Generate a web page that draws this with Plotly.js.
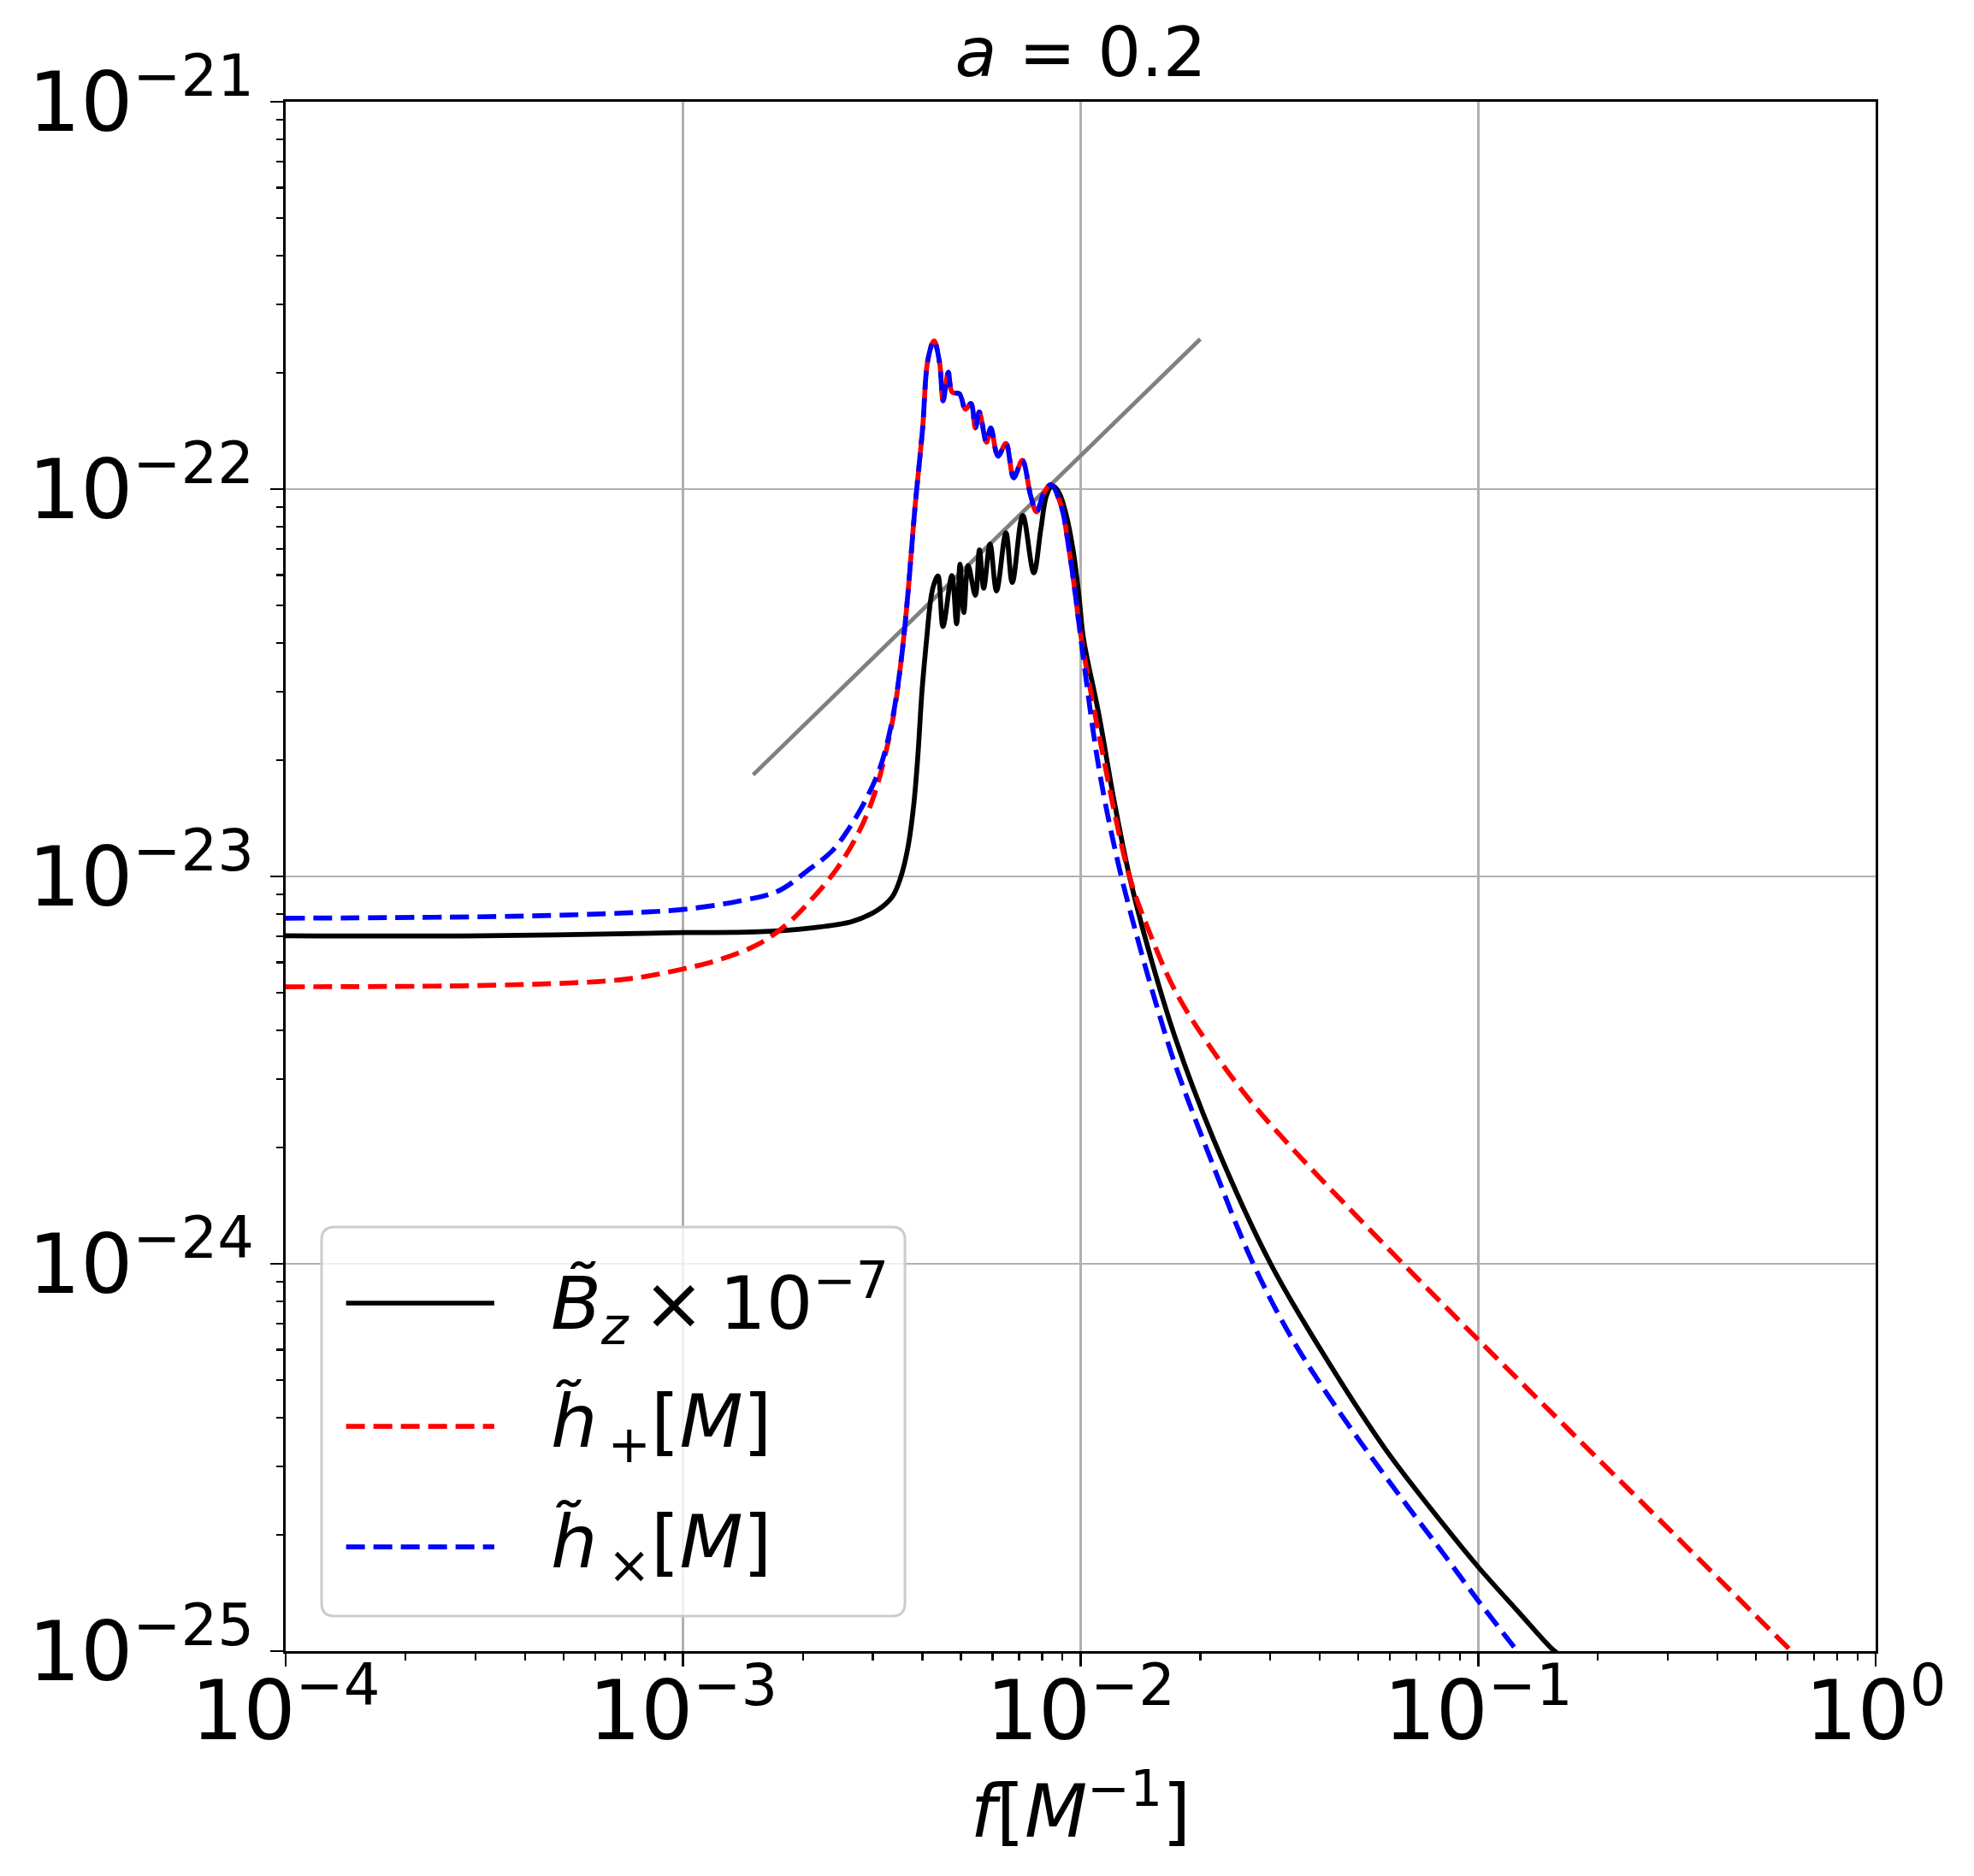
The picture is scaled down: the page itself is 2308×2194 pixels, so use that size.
<!DOCTYPE html>
<html>
<head>
<meta charset="utf-8">
<script src="https://cdn.plot.ly/plotly-3.0.1.min.js"></script>
<style>body{margin:0;background:#fff}</style>
</head>
<body>
<div id="chart" style="width:2308px;height:2194px"></div>
<script>
// B_z x 1e-7 (black)
var bzF = [1.00e-4, 3.16e-4, 1.00e-3, 1.51e-3, 2.09e-3, 2.67e-3, 3.09e-3, 3.36e-3, 3.526e-3, 3.675e-3,
  3.802e-3, 3.894e-3, 3.990e-3, 4.093e-3, 4.198e-3, 4.266e-3, 4.375e-3, 4.504e-3, 4.742e-3, 4.875e-3,
  4.972e-3, 5.082e-3, 5.212e-3, 5.433e-3, 5.564e-3, 5.702e-3, 5.916e-3, 6.143e-3, 6.486e-3, 6.730e-3,
  7.151e-3, 7.621e-3, 7.936e-3, 8.204e-3, 8.479e-3, 8.831e-3, 9.204e-3, 9.594e-3, 9.917e-3, 1.0163e-2,
  1.112e-2, 1.216e-2, 1.327e-2, 1.483e-2, 1.730e-2, 2.158e-2, 3.006e-2, 4.188e-2, 5.834e-2, 8.128e-2,
  0.1, 0.1265, 0.1524, 0.1585];
var bzH = [7.03e-24, 7.03e-24, 7.16e-24, 7.19e-24, 7.36e-24, 7.66e-24, 8.20e-24, 8.87e-24, 9.95e-24, 1.186e-23,
  1.528e-23, 2.046e-23, 3.02e-23, 4.05e-23, 5.21e-23, 5.64e-23, 5.97e-23, 4.42e-23, 5.98e-23, 4.49e-23,
  6.40e-23, 4.80e-23, 6.35e-23, 5.32e-23, 6.97e-23, 5.55e-23, 7.21e-23, 5.46e-23, 7.71e-23, 5.74e-23,
  8.55e-23, 6.08e-23, 7.85e-23, 9.62e-23, 1.021e-22, 9.77e-23, 8.55e-23, 6.85e-23, 5.22e-23, 4.12e-23,
  2.61e-23, 1.552e-23, 1.0e-23, 6.44e-24, 3.83e-24, 2.10e-24, 1.0e-24, 5.60e-25, 3.33e-25, 2.14e-25,
  1.65e-25, 1.26e-25, 1.02e-25, 9.86e-26];

// h_plus before the peak (red)
var hpLowF = [1.0e-4, 3.70e-4, 7.18e-4, 1.0e-3, 1.247e-3, 1.556e-3, 1.816e-3, 2.080e-3, 2.453e-3, 2.799e-3, 3.041e-3, 3.248e-3, 3.412e-3];
var hpLowH = [5.19e-24, 5.25e-24, 5.43e-24, 5.77e-24, 6.12e-24, 6.71e-24, 7.50e-24, 8.61e-24, 1.057e-23, 1.334e-23, 1.652e-23, 2.128e-23, 2.742e-23];

// h_cross before the peak (blue)
var hxLowF = [1.0e-4, 3.70e-4, 7.18e-4, 1.0e-3, 1.393e-3, 1.738e-3, 2.080e-3, 2.371e-3, 2.618e-3, 2.891e-3, 3.141e-3, 3.357e-3];
var hxLowH = [7.80e-24, 7.89e-24, 8.05e-24, 8.22e-24, 8.65e-24, 9.18e-24, 1.045e-23, 1.164e-23, 1.334e-23, 1.589e-23, 1.932e-23, 2.535e-23];

// peak region where both polarisations coincide
var peakF = [3.526e-3, 3.648e-3, 3.737e-3, 3.831e-3, 3.999e-3, 4.130e-3, 4.276e-3, 4.416e-3, 4.508e-3, 4.645e-3,
  4.753e-3, 4.955e-3, 5.129e-3, 5.297e-3, 5.433e-3, 5.559e-3, 5.794e-3, 5.943e-3, 6.194e-3, 6.486e-3,
  6.784e-3, 7.129e-3, 7.490e-3, 7.745e-3, 8.072e-3, 8.414e-3, 8.913e-3, 9.354e-3, 9.750e-3, 9.908e-3];
var peakH = [3.53e-23, 4.91e-23, 6.58e-23, 8.99e-23, 1.416e-22, 2.163e-22, 2.415e-22, 2.123e-22, 1.690e-22, 2.004e-22,
  1.778e-22, 1.762e-22, 1.607e-22, 1.663e-22, 1.439e-22, 1.581e-22, 1.321e-22, 1.439e-22, 1.216e-22, 1.312e-22,
  1.069e-22, 1.186e-22, 9.59e-23, 8.73e-23, 9.75e-23, 1.026e-22, 9.12e-23, 6.95e-23, 5.12e-23, 4.47e-23];

// tails
var hpTailF = [1.112e-2, 1.327e-2, 1.483e-2, 1.730e-2, 2.158e-2, 2.692e-2, 3.357e-2, 4.188e-2, 5.224e-2, 6.516e-2, 8.128e-2, 0.1, 0.1265, 0.1578, 0.1968, 0.2851, 0.6138, 0.631];
var hpTailH = [2.32e-23, 1.0e-23, 7.26e-24, 5.06e-24, 3.53e-24, 2.61e-24, 2.018e-24, 1.585e-24, 1.253e-24, 9.93e-25, 7.89e-25, 6.37e-25, 5.01e-25, 4.00e-25, 3.19e-25, 2.19e-25, 1.0e-25, 9.73e-26];
var hxTailF = [1.112e-2, 1.242e-2, 1.387e-2, 1.549e-2, 1.730e-2, 2.158e-2, 2.692e-2, 3.357e-2, 4.188e-2, 5.224e-2, 6.516e-2, 8.128e-2, 0.1, 0.1222, 0.1288];
var hxTailH = [1.897e-23, 1.084e-23, 6.97e-24, 4.68e-24, 3.26e-24, 1.786e-24, 1.021e-24, 6.56e-25, 4.58e-25, 3.31e-25, 2.43e-25, 1.80e-25, 1.35e-25, 1.035e-25, 9.66e-26];

// gray reference line
var refF = [1.5e-3, 2.0e-2];
var refH = [1.83e-23, 2.44e-22];

var xTickVals = [1e-4, 1e-3, 1e-2, 1e-1, 1];
var xTickText = ['10<sup>\u22124</sup>', '10<sup>\u22123</sup>', '10<sup>\u22122</sup>', '10<sup>\u22121</sup>', '10<sup>0</sup>'];
var yTickVals = [1e-25, 1e-24, 1e-23, 1e-22, 1e-21];
var yTickText = ['10<sup>\u221225</sup>', '10<sup>\u221224</sup>', '10<sup>\u221223</sup>', '10<sup>\u221222</sup>', '10<sup>\u221221</sup>'];

var legendLabels = ['<i>B\u0303</i><sub><i>z</i></sub>\u2009\u00d7\u200910<sup>\u22127</sup>',
                    '<i>h\u0303</i><sub>\u2009+</sub>[<i>M</i>]',
                    '<i>h\u0303</i><sub>\u2009\u00d7</sub>[<i>M</i>]'];

function minorVals(lo, hi) {
  var v = [];
  for (var p = lo; p < hi; p++) {
    for (var m = 2; m <= 9; m++) v.push(m * Math.pow(10, p));
  }
  return v;
}

var FONT = 'DejaVu Sans';
var LW = 5.7;
var DASH = '22px,10px';
var SMOOTH = 1.0;

var traces = [
  {x: refF, y: refH, mode: 'lines', line: {color: '#808080', width: 4.8}, showlegend: false, hoverinfo: 'skip'},
  {x: bzF, y: bzH, mode: 'lines', name: 'Bz', line: {color: 'black', width: LW, shape: 'spline', smoothing: SMOOTH}, showlegend: false},
  {x: hpLowF.concat(peakF, hpTailF), y: hpLowH.concat(peakH, hpTailH), mode: 'lines', name: 'h+',
   line: {color: 'red', width: LW, dash: DASH, shape: 'spline', smoothing: SMOOTH}, showlegend: false},
  {x: hxLowF.concat(peakF, hxTailF), y: hxLowH.concat(peakH, hxTailH), mode: 'lines', name: 'hx',
   line: {color: 'blue', width: LW, dash: DASH, shape: 'spline', smoothing: SMOOTH}, showlegend: false}
];

// custom legend box (matplotlib style), in paper coordinates
var bx0 = 0.0226, bx1 = 0.3895, by0 = 0.0226, by1 = 0.2737, rx = 0.0081, ry = 0.0083;
var boxPath = 'M' + (bx0 + rx) + ',' + by0 + ' L' + (bx1 - rx) + ',' + by0 +
  ' Q' + bx1 + ',' + by0 + ' ' + bx1 + ',' + (by0 + ry) + ' L' + bx1 + ',' + (by1 - ry) +
  ' Q' + bx1 + ',' + by1 + ' ' + (bx1 - rx) + ',' + by1 + ' L' + (bx0 + rx) + ',' + by1 +
  ' Q' + bx0 + ',' + by1 + ' ' + bx0 + ',' + (by1 - ry) + ' L' + bx0 + ',' + (by0 + ry) +
  ' Q' + bx0 + ',' + by0 + ' ' + (bx0 + rx) + ',' + by0 + ' Z';

var rowY = [0.2246, 0.1451, 0.0673];
var rowStyle = [{color: 'black', dash: 'solid'}, {color: 'red', dash: DASH}, {color: 'blue', dash: DASH}];

var shapes = [{type: 'path', xref: 'paper', yref: 'paper', path: boxPath, layer: 'above',
  fillcolor: 'rgba(255,255,255,0.8)', line: {color: '#cccccc', width: 3}}];
var annotations = [];
for (var i = 0; i < 3; i++) {
  shapes.push({type: 'line', xref: 'paper', yref: 'paper', layer: 'above',
    x0: 0.038, x1: 0.1312, y0: rowY[i], y1: rowY[i],
    line: {color: rowStyle[i].color, width: LW, dash: rowStyle[i].dash}});
  annotations.push({xref: 'paper', yref: 'paper', x: 0.1657, y: rowY[i], xanchor: 'left', yanchor: 'middle',
    text: legendLabels[i], showarrow: false, font: {family: FONT, size: 86, color: 'black'}});
}

var axisCommon = {
  type: 'log', showline: true, linecolor: 'black', linewidth: 2.8, mirror: true,
  ticks: 'outside', ticklen: 15, tickwidth: 2.8, tickcolor: 'black',
  showgrid: true, gridcolor: '#b0b0b0', gridwidth: 2.8, zeroline: false,
  tickmode: 'array', tickfont: {family: FONT, size: 96, color: 'black'}
};

var layout = {
  width: 2308, height: 2194,
  margin: {l: 334, r: 115, t: 119, b: 263},
  paper_bgcolor: 'white', plot_bgcolor: 'white',
  font: {family: FONT, color: 'black'},
  title: {text: '<i>a</i> = 0.2', font: {family: FONT, size: 80, color: 'black'},
          x: 0.5, xref: 'paper', xanchor: 'center', y: 1, yref: 'paper', yanchor: 'bottom', pad: {b: 30}},
  xaxis: Object.assign({}, axisCommon, {
    range: [-4, 0], tickvals: xTickVals, ticktext: xTickText, ticklabelstandoff: -30,
    minor: {tickmode: 'array', tickvals: minorVals(-4, 0), ticks: 'outside', ticklen: 8, tickwidth: 2.2, tickcolor: 'black', showgrid: false},
    title: {text: '<i>f</i>[<i>M</i><sup>\u22121</sup>]', font: {family: FONT, size: 85, color: 'black'}, standoff: 8}
  }),
  yaxis: Object.assign({}, axisCommon, {
    range: [-25, -21], tickvals: yTickVals, ticktext: yTickText,
    minor: {tickmode: 'array', tickvals: minorVals(-25, -21), ticks: 'outside', ticklen: 8, tickwidth: 2.2, tickcolor: 'black', showgrid: false}
  }),
  shapes: shapes,
  annotations: annotations,
  showlegend: false
};

Plotly.newPlot('chart', traces, layout, {staticPlot: true});
</script>
</body>
</html>
